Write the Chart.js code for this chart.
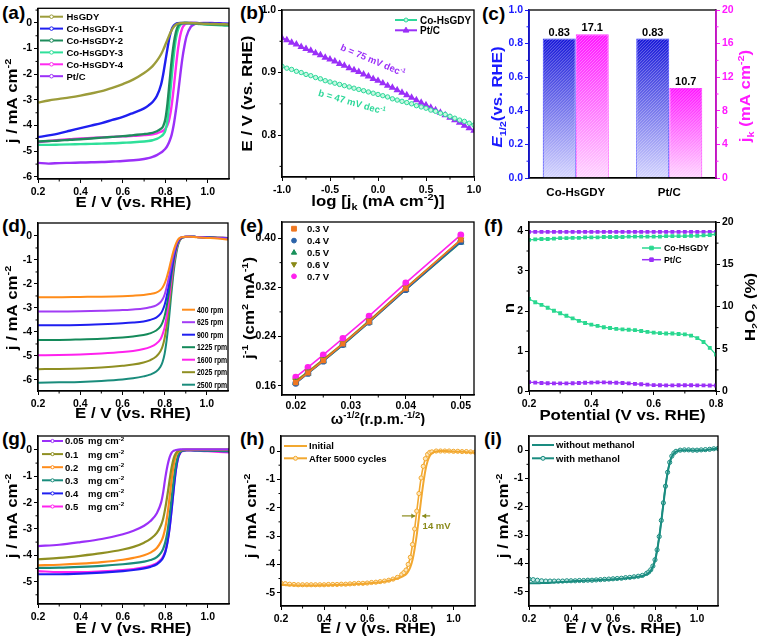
<!DOCTYPE html>
<html><head><meta charset="utf-8">
<script src="https://cdn.jsdelivr.net/npm/chart.js@4.4.1/dist/chart.umd.min.js"></script>
<style>
html,body{margin:0;padding:0;background:#fff;}
#wrap{position:relative;width:757px;height:639px;overflow:hidden;background:#fff;}
.pl{position:absolute;font-family:"Liberation Sans",Arial,sans-serif;font-weight:bold;font-size:19px;line-height:19px;color:#000;}
</style></head><body>
<div id="wrap">
<div class="pl" style="left:2px;top:3px">(a)</div>
<div class="pl" style="left:240px;top:3px">(b)</div>
<div class="pl" style="left:482px;top:4px">(c)</div>
<div class="pl" style="left:2px;top:216px">(d)</div>
<div class="pl" style="left:240px;top:216px">(e)</div>
<div class="pl" style="left:484px;top:216px">(f)</div>
<div class="pl" style="left:2px;top:429px">(g)</div>
<div class="pl" style="left:240px;top:429px">(h)</div>
<div class="pl" style="left:484px;top:429px">(i)</div>
</div>
<script>
const F='"Liberation Sans", Arial, sans-serif';

// ---------- (a) LSV of samples ----------
const E_A=[0.2,0.25,0.3,0.35,0.4,0.45,0.5,0.55,0.6,0.65,0.7,0.72,0.74,0.76,0.78,0.79,0.8,0.81,0.82,0.83,0.84,0.85,0.86,0.87,0.88,0.89,0.9,0.92,0.94,0.96,0.98,1.0,1.02,1.04,1.06,1.08,1.1];
const j_HsGDY=[-3.1,-3.02,-2.96,-2.9,-2.83,-2.75,-2.66,-2.53,-2.38,-2.2,-1.95,-1.83,-1.68,-1.48,-1.22,-1.05,-0.85,-0.65,-0.45,-0.28,-0.15,-0.07,-0.03,-0.01,0,0,0,0,-0.01,-0.02,-0.03,-0.03,-0.04,-0.04,-0.05,-0.05,-0.06];
const j_Co1=[-4.45,-4.38,-4.3,-4.2,-4.1,-4.0,-3.9,-3.78,-3.66,-3.5,-3.33,-3.22,-3.08,-2.85,-2.4,-2.0,-1.5,-1.0,-0.55,-0.25,-0.1,-0.03,-0.01,0,0,0,0,0,0,-0.01,-0.01,-0.01,-0.02,-0.02,-0.02,-0.03,-0.03];
const j_Co2=[-4.62,-4.6,-4.58,-4.55,-4.53,-4.5,-4.47,-4.44,-4.41,-4.37,-4.33,-4.31,-4.28,-4.22,-4.12,-4.02,-3.75,-3.15,-2.3,-1.45,-0.8,-0.35,-0.12,-0.04,-0.01,0,0,-0.01,-0.02,-0.03,-0.04,-0.05,-0.06,-0.06,-0.07,-0.08,-0.08];
const j_Co3=[-4.75,-4.75,-4.74,-4.73,-4.72,-4.71,-4.7,-4.69,-4.67,-4.65,-4.62,-4.6,-4.57,-4.52,-4.42,-4.35,-4.2,-3.8,-3.0,-2.1,-1.25,-0.6,-0.25,-0.08,-0.02,0,0,-0.01,-0.02,-0.04,-0.05,-0.06,-0.07,-0.08,-0.09,-0.1,-0.1];
const j_Co4=[-4.65,-4.6,-4.56,-4.53,-4.5,-4.48,-4.46,-4.44,-4.42,-4.4,-4.37,-4.36,-4.34,-4.3,-4.24,-4.2,-4.12,-3.98,-3.7,-3.2,-2.5,-1.7,-1.0,-0.5,-0.2,-0.07,-0.02,0,0,-0.01,-0.02,-0.03,-0.03,-0.04,-0.04,-0.05,-0.05];
const j_PtC=[-5.45,-5.48,-5.46,-5.45,-5.44,-5.43,-5.42,-5.4,-5.38,-5.35,-5.3,-5.27,-5.22,-5.15,-5.05,-4.98,-4.9,-4.78,-4.6,-4.35,-3.95,-3.4,-2.75,-2.05,-1.4,-0.9,-0.52,-0.15,-0.04,-0.01,0,0,0,-0.01,-0.02,-0.03,-0.04];
const namesA=['HsGDY','Co-HsGDY-1','Co-HsGDY-2','Co-HsGDY-3','Co-HsGDY-4','Pt/C'];

// ---------- (b) Tafel ----------
const logJk=[-1,-0.95,-0.9,-0.85,-0.8,-0.75,-0.7,-0.65,-0.6,-0.55,-0.5,-0.45,-0.4,-0.35,-0.3,-0.25,-0.2,-0.15,-0.1,-0.05,0,0.05,0.1,0.15,0.2,0.25,0.3,0.35,0.4,0.45,0.5,0.55,0.6,0.65,0.7,0.75,0.8,0.85,0.9,0.95,1];
const Etaf_Co=[0.910,0.907,0.905,0.902,0.900,0.897,0.895,0.892,0.890,0.887,0.885,0.883,0.881,0.879,0.877,0.875,0.873,0.871,0.869,0.867,0.865,0.863,0.861,0.858,0.856,0.854,0.852,0.850,0.847,0.845,0.843,0.840,0.838,0.835,0.833,0.830,0.827,0.824,0.822,0.819,0.816];
const Etaf_Pt=[0.955,0.952,0.948,0.945,0.941,0.938,0.935,0.931,0.928,0.924,0.921,0.918,0.914,0.911,0.907,0.904,0.901,0.897,0.894,0.890,0.887,0.883,0.879,0.876,0.872,0.868,0.864,0.860,0.856,0.852,0.848,0.844,0.840,0.836,0.832,0.828,0.824,0.820,0.815,0.811,0.807];
const namesB=['Co-HsGDY','Pt/C'];
const tafelLabels=['b = 47 mV dec','b = 75 mV dec'];

// ---------- (c) bars ----------
const catC=['Co-HsGDY','Pt/C'];
const E_half=[0.83,0.83];
const j_k=[17.1,10.7];

// ---------- (d) rpm ----------
const E_D=[0.2,0.3,0.4,0.5,0.6,0.65,0.7,0.73,0.76,0.78,0.79,0.8,0.81,0.82,0.83,0.84,0.85,0.86,0.87,0.88,0.9,0.92,0.95,1.0,1.05,1.1];
const rpmNames=['400 rpm','625 rpm','900 rpm','1225 rpm','1600 rpm','2025 rpm','2500 rpm'];
const j_400=[-2.55,-2.55,-2.54,-2.53,-2.51,-2.49,-2.46,-2.42,-2.36,-2.25,-2.15,-1.98,-1.72,-1.4,-1.03,-0.68,-0.4,-0.2,-0.09,-0.05,-0.03,-0.03,-0.05,-0.08,-0.11,-0.15];
const j_625=[-3.15,-3.15,-3.14,-3.12,-3.09,-3.06,-3.02,-2.97,-2.89,-2.76,-2.64,-2.44,-2.12,-1.72,-1.27,-0.84,-0.5,-0.25,-0.11,-0.05,-0.03,-0.03,-0.04,-0.07,-0.09,-0.11];
const j_900=[-3.72,-3.72,-3.71,-3.68,-3.64,-3.61,-3.56,-3.5,-3.4,-3.25,-3.1,-2.87,-2.5,-2.03,-1.5,-0.99,-0.58,-0.29,-0.13,-0.06,-0.03,-0.03,-0.04,-0.06,-0.08,-0.1];
const j_1225=[-4.33,-4.33,-4.31,-4.28,-4.23,-4.19,-4.13,-4.06,-3.94,-3.77,-3.6,-3.33,-2.9,-2.36,-1.74,-1.15,-0.67,-0.33,-0.15,-0.07,-0.03,-0.03,-0.04,-0.06,-0.07,-0.09];
const j_1600=[-4.97,-4.96,-4.94,-4.9,-4.84,-4.79,-4.71,-4.63,-4.49,-4.3,-4.1,-3.8,-3.3,-2.68,-1.98,-1.3,-0.76,-0.38,-0.17,-0.08,-0.03,-0.03,-0.04,-0.06,-0.07,-0.08];
const j_2025=[-5.55,-5.54,-5.52,-5.48,-5.41,-5.36,-5.27,-5.18,-5.02,-4.8,-4.6,-4.25,-3.7,-3.0,-2.2,-1.45,-0.85,-0.42,-0.19,-0.09,-0.04,-0.03,-0.04,-0.06,-0.07,-0.08];
const j_2500=[-6.12,-6.1,-6.08,-6.04,-5.98,-5.93,-5.85,-5.78,-5.65,-5.45,-5.25,-4.9,-4.3,-3.5,-2.55,-1.7,-1.0,-0.5,-0.22,-0.1,-0.04,-0.03,-0.04,-0.06,-0.07,-0.08];

// ---------- (e) K-L ----------
const omega=[0.02,0.02222,0.025,0.02857,0.03333,0.04,0.05];
const klNames=['0.3 V','0.4 V','0.5 V','0.6 V','0.7 V'];
const kl_03=[0.165,0.181,0.201,0.228,0.264,0.318,0.397];
const kl_04=[0.164,0.180,0.200,0.227,0.263,0.316,0.394];
const kl_05=[0.165,0.180,0.200,0.226,0.263,0.316,0.393];
const kl_06=[0.168,0.183,0.203,0.229,0.266,0.319,0.397];
const kl_07=[0.174,0.190,0.210,0.237,0.273,0.327,0.405];

// ---------- (f) n and H2O2 ----------
const E_F=[0.2,0.22,0.24,0.26,0.28,0.3,0.32,0.34,0.36,0.38,0.4,0.42,0.44,0.46,0.48,0.5,0.52,0.54,0.56,0.58,0.6,0.62,0.64,0.66,0.68,0.7,0.72,0.74,0.76,0.78,0.8];
const n_Co=[3.78,3.79,3.8,3.8,3.81,3.82,3.82,3.83,3.83,3.84,3.84,3.84,3.85,3.85,3.85,3.85,3.86,3.86,3.86,3.86,3.86,3.86,3.87,3.87,3.87,3.87,3.88,3.88,3.89,3.9,3.92];
const n_Pt=[3.98,3.98,3.98,3.98,3.98,3.98,3.98,3.98,3.98,3.98,3.98,3.98,3.98,3.98,3.98,3.98,3.98,3.98,3.98,3.98,3.98,3.98,3.98,3.98,3.98,3.98,3.98,3.98,3.98,3.98,3.98];
const h2o2_Co=[10.9,10.5,10.2,9.85,9.5,9.2,8.9,8.6,8.3,8.05,7.85,7.7,7.55,7.45,7.35,7.3,7.25,7.2,7.1,7.0,6.9,6.85,6.8,6.8,6.75,6.7,6.55,6.25,5.8,5.1,4.3];
const h2o2_Pt=[1.05,1.0,0.95,0.92,0.9,0.9,0.9,0.92,0.95,0.98,1.0,1.02,1.02,1.0,0.98,0.95,0.9,0.85,0.8,0.75,0.7,0.68,0.67,0.67,0.68,0.68,0.68,0.67,0.66,0.65,0.65];

// ---------- (g) loading ----------
const loadVals=['0.05','0.1','0.2','0.3','0.4','0.5'];
const j_L005=[-3.65,-3.6,-3.5,-3.38,-3.2,-3.07,-2.88,-2.7,-2.4,-2.0,-1.6,-1.05,-0.6,-0.28,-0.1,-0.03,0,0.01,0.02,0.02,0.02,0.02,0.02,0.02,0.02,0.02];
const j_L01=[-4.15,-4.1,-4.02,-3.92,-3.78,-3.68,-3.52,-3.38,-3.15,-2.85,-2.6,-2.2,-1.7,-1.15,-0.65,-0.3,-0.12,-0.04,-0.01,0,0.01,0.01,0.01,0.01,0.01,0.01];
const j_L02=[-4.38,-4.36,-4.32,-4.26,-4.17,-4.1,-4.0,-3.9,-3.72,-3.48,-3.28,-2.95,-2.45,-1.8,-1.12,-0.55,-0.22,-0.07,-0.02,0,0,0,0,0,0,0];
const j_L03=[-4.48,-4.47,-4.44,-4.4,-4.34,-4.3,-4.24,-4.18,-4.07,-3.9,-3.75,-3.5,-3.1,-2.5,-1.8,-1.1,-0.55,-0.22,-0.08,-0.03,-0.01,-0.01,-0.02,-0.03,-0.04,-0.05];
const j_L04=[-4.72,-4.72,-4.7,-4.66,-4.6,-4.56,-4.5,-4.44,-4.34,-4.2,-4.08,-3.88,-3.52,-2.98,-2.25,-1.45,-0.75,-0.3,-0.1,-0.03,-0.01,-0.01,-0.02,-0.03,-0.04,-0.05];
const j_L05=[-4.6,-4.64,-4.64,-4.61,-4.56,-4.52,-4.46,-4.4,-4.3,-4.16,-4.04,-3.84,-3.48,-2.95,-2.22,-1.42,-0.75,-0.32,-0.12,-0.05,-0.02,-0.02,-0.03,-0.05,-0.07,-0.09];

// ---------- (h) stability ----------
const E_M=[0.2,0.22,0.24,0.26,0.28,0.3,0.32,0.34,0.36,0.38,0.4,0.42,0.44,0.46,0.48,0.5,0.52,0.54,0.56,0.58,0.6,0.62,0.64,0.66,0.68,0.7,0.72,0.74,0.76,0.77,0.78,0.79,0.8,0.81,0.82,0.83,0.84,0.85,0.86,0.87,0.88,0.89,0.9,0.92,0.94,0.96,0.98,1.0,1.02,1.04,1.06,1.08,1.1];
const j_init=[-4.72,-4.73,-4.74,-4.74,-4.75,-4.75,-4.75,-4.75,-4.75,-4.74,-4.74,-4.74,-4.73,-4.73,-4.72,-4.72,-4.71,-4.7,-4.69,-4.69,-4.68,-4.66,-4.65,-4.63,-4.61,-4.58,-4.54,-4.5,-4.44,-4.4,-4.35,-4.25,-4.1,-3.85,-3.45,-2.95,-2.35,-1.72,-1.15,-0.68,-0.36,-0.18,-0.08,-0.02,0,0,-0.01,-0.02,-0.03,-0.03,-0.04,-0.05,-0.06];
const j_after=[-4.66,-4.68,-4.7,-4.71,-4.72,-4.72,-4.72,-4.72,-4.72,-4.72,-4.72,-4.71,-4.71,-4.71,-4.7,-4.7,-4.69,-4.68,-4.67,-4.67,-4.66,-4.64,-4.63,-4.61,-4.59,-4.56,-4.52,-4.46,-4.36,-4.29,-4.2,-4.0,-3.75,-3.3,-2.75,-2.12,-1.5,-0.95,-0.54,-0.27,-0.12,-0.05,-0.03,0,0,0,0,-0.01,-0.01,-0.02,-0.02,-0.03,-0.04];

// ---------- (i) methanol ----------
const j_noMeOH=[-4.7,-4.7,-4.7,-4.69,-4.69,-4.68,-4.67,-4.66,-4.65,-4.64,-4.63,-4.62,-4.62,-4.61,-4.6,-4.6,-4.59,-4.58,-4.57,-4.57,-4.56,-4.55,-4.54,-4.52,-4.51,-4.49,-4.47,-4.44,-4.38,-4.33,-4.25,-4.12,-3.9,-3.55,-3.08,-2.52,-1.9,-1.3,-0.8,-0.45,-0.23,-0.11,-0.05,-0.01,0,0,-0.01,-0.01,0,0,0.02,0.04,0.06];
const j_MeOH=[-4.55,-4.57,-4.59,-4.61,-4.62,-4.62,-4.62,-4.62,-4.62,-4.61,-4.61,-4.61,-4.6,-4.6,-4.59,-4.59,-4.58,-4.57,-4.56,-4.55,-4.54,-4.53,-4.52,-4.5,-4.49,-4.47,-4.45,-4.42,-4.35,-4.3,-4.22,-4.09,-3.87,-3.52,-3.05,-2.48,-1.86,-1.27,-0.78,-0.43,-0.21,-0.1,-0.04,0,0.01,0.01,0,0,0.01,0.02,0.03,0.05,0.06];

// ================= helpers =================
const wrap=document.getElementById('wrap');
const pts=(xs,ys)=>xs.map((x,i)=>({x:x,y:ys[i]}));
function ds(label,xs,ys,color,extra){
  return Object.assign({label:label,data:pts(xs,ys),borderColor:color,backgroundColor:color,borderWidth:2,pointRadius:0,pointHoverRadius:0,cubicInterpolationMode:'monotone',fill:false},extra||{});
}
const f1=v=>Number(v).toFixed(1), f2=v=>Number(v).toFixed(2), fi=v=>String(Math.round(v));

function lin(a){
  const col=a.color||'#000';
  return {
    type:'linear',position:a.pos,min:a.min,max:a.max,
    afterFit:function(s){ if(a.pos==='left'||a.pos==='right') s.width=a.size; else s.height=a.size; },
    afterBuildTicks:function(s){ s.ticks=a.ticks.map(v=>({value:v})); },
    ticks:{color:col,font:{family:F,size:a.fs||10.5,weight:'bold'},padding:a.pad!=null?a.pad:2,autoSkip:false,maxRotation:0,minRotation:0,callback:function(v){return a.fmt(v);}},
    grid:{display:true,drawOnChartArea:false,drawTicks:true,tickLength:4,color:col,lineWidth:1},
    border:{display:true,color:col,width:1.3}
  };
}
function catAxis(size){
  return {type:'category',position:'bottom',offset:true,
    afterFit:function(s){s.height=size;},
    ticks:{color:'#000',font:{family:F,size:11.5,weight:'bold'},padding:8},
    grid:{display:true,drawOnChartArea:false,drawTicks:false,color:'#000'},
    border:{display:true,color:'#000',width:1.3}};
}
function drawRich(ctx,parts,x,y,size,color,rot,align,sx){
  ctx.save(); ctx.translate(x,y); if(rot) ctx.rotate(rot); if(sx) ctx.scale(sx,1);
  ctx.fillStyle=color||'#000'; ctx.textBaseline='alphabetic'; ctx.textAlign='left';
  if(typeof parts==='string') parts=[[parts,'']];
  const segs=parts.map(p=>{const m=p[1];const s=(m==='u'||m==='d')?size*0.65:size;const f=(m==='i'?'italic bold ':'bold ')+s+'px '+F;ctx.font=f;return {t:p[0],m:m,f:f,w:ctx.measureText(p[0]).width};});
  const W=segs.reduce((a,s)=>a+s.w,0);
  let cx=align==='left'?0:-W/2; const base=size*0.36;
  segs.forEach(s=>{ctx.font=s.f;const dy=s.m==='u'?-size*0.4:(s.m==='d'?size*0.22:0);ctx.fillText(s.t,cx,base+dy);cx+=s.w;});
  ctx.restore();
}
const TS=15, SX=1.12;
function title(ctx,parts,x,y,color,rot){drawRich(ctx,parts,x,y,TS,color||'#000',rot||0,null,SX);}
function marker(ctx,shape,x,y,r,stroke,fill){
  ctx.save(); ctx.beginPath();
  if(shape==='circle') ctx.arc(x,y,r,0,Math.PI*2);
  else if(shape==='rect') ctx.rect(x-r,y-r,2*r,2*r);
  else if(shape==='tri'){ctx.moveTo(x,y-r*1.2);ctx.lineTo(x+r*1.1,y+r*0.7);ctx.lineTo(x-r*1.1,y+r*0.7);ctx.closePath();}
  else if(shape==='dtri'){ctx.moveTo(x,y+r*1.2);ctx.lineTo(x+r*1.1,y-r*0.7);ctx.lineTo(x-r*1.1,y-r*0.7);ctx.closePath();}
  ctx.fillStyle=fill; ctx.fill(); ctx.strokeStyle=stroke; ctx.lineWidth=1; ctx.stroke(); ctx.restore();
}
function legend(ctx,items,L){
  items.forEach((it,i)=>{
    const y=L.y0+i*L.dy;
    if(L.x1>L.x0){ctx.strokeStyle=it.color;ctx.lineWidth=L.lw||2;ctx.beginPath();ctx.moveTo(L.x0,y);ctx.lineTo(L.x1,y);ctx.stroke();}
    if(it.m) marker(ctx,it.m,L.x1>L.x0?(L.x0+L.x1)/2:L.x0,y,it.r||2.2,it.color,it.fill||it.color);
    drawRich(ctx,it.rich||it.label,L.tx,y,L.fs||9.5,'#000',0,'left',L.sx);
  });
}
function line(ctx,x0,y0,x1,y1){ctx.beginPath();ctx.moveTo(x0,y0);ctx.lineTo(x1,y1);ctx.stroke();}

function build(o){
  const c=o.cell,p=o.plot;
  const cv=document.createElement('canvas'); cv.width=c.w; cv.height=c.h;
  cv.style.cssText='position:absolute;left:'+c.x+'px;top:'+c.y+'px;width:'+c.w+'px;height:'+c.h+'px;';
  wrap.appendChild(cv);
  const leftW=p.l-c.x, topP=p.t-c.y, rightW=c.x+c.w-p.r, botH=c.y+c.h-p.b;
  const scales={};
  scales.x=o.x.cat?catAxis(botH):lin(Object.assign({pos:'bottom',size:botH},o.x));
  scales.y=lin(Object.assign({pos:'left',size:leftW},o.y));
  if(o.y1) scales.y1=lin(Object.assign({pos:'right',size:rightW},o.y1));
  return new Chart(cv,{
    type:o.type||'line',
    data:o.data,
    options:{
      responsive:false,animation:false,devicePixelRatio:1,events:[],
      layout:{padding:{left:0,top:topP,right:o.y1?0:rightW,bottom:0}},
      plugins:{legend:{display:false},tooltip:{enabled:false}},
      scales:scales
    },
    plugins:[{id:'deco',afterDraw:function(chart){
      const ctx=chart.ctx,a=chart.chartArea;
      ctx.save();
      if(o.raw) o.raw(chart,ctx);
      ctx.lineWidth=1.3; ctx.strokeStyle='#000';
      ctx.strokeRect(a.left,a.top,a.right-a.left,a.bottom-a.top);
      if(o.leftColor){ctx.strokeStyle=o.leftColor;line(ctx,a.left,a.top,a.left,a.bottom);}
      if(o.rightColor){ctx.strokeStyle=o.rightColor;line(ctx,a.right,a.top,a.right,a.bottom);}
      const mn=o.minor||{};
      Object.keys(mn).forEach(k=>{
        const s=chart.scales[k]; if(!s) return;
        ctx.strokeStyle=(k==='y'&&o.leftColor)||(k==='y1'&&o.rightColor)||'#000'; ctx.lineWidth=1;
        mn[k].forEach(v=>{const px=s.getPixelForValue(v);
          if(k==='x') line(ctx,px,a.bottom,px,a.bottom+2.5);
          else if(k==='y') line(ctx,a.left-2.5,px,a.left,px);
          else line(ctx,a.right,px,a.right+2.5,px);});
      });
      ctx.translate(-c.x,-c.y);
      if(o.deco) o.deco(chart,ctx,c);
      ctx.restore();
    }}]
  });
}

const LSVx={min:0.2,max:1.1,ticks:[0.2,0.4,0.6,0.8,1.0],fmt:f1,pad:3};
const Xt='E / V (vs. RHE)';
const Yt=[['j / mA cm',''],['-2','u']];

// ================= (a) =================
const colA=['#9c9c3a','#1f1ff0','#1e8c5c','#2fe09a','#ff2af0','#9b30f8'];
const seriesA=[j_HsGDY,j_Co1,j_Co2,j_Co3,j_Co4,j_PtC];
build({cell:{x:0,y:0,w:252,h:213},plot:{l:38,t:5,r:229,b:179},
  data:{datasets:seriesA.map((s,i)=>ds(namesA[i],E_A,s,colA[i],{borderWidth:2.4}))},
  x:LSVx,y:{min:-6.08,max:0.57,ticks:[-6,-5,-4,-3,-2,-1,0],fmt:fi},
  minor:{x:[0.3,0.5,0.7,0.9],y:[-5.5,-4.5,-3.5,-2.5,-1.5,-0.5,0.5]},
  deco:function(ch,ctx){
    title(ctx,Xt,133.5,201.5);
    title(ctx,Yt,11.5,101,'#000',-Math.PI/2);
    legend(ctx,namesA.map((n,i)=>({label:n,color:colA[i],m:'circle',r:1.8,fill:'#fff'})),{x0:40,x1:63,tx:66.5,y0:16.7,dy:11.9,fs:9.5});
  }});

// ================= (b) =================
const colB=['#2ed89a','#9b30f8'];
build({cell:{x:238,y:0,w:266,h:213},plot:{l:282,t:10,r:474,b:177},
  data:{datasets:[
    ds(namesB[0],logJk,Etaf_Co,colB[0],{borderWidth:1.5,pointRadius:2.2,pointStyle:'circle',pointBackgroundColor:'#c8f7e2',pointBorderColor:colB[0],pointBorderWidth:1}),
    ds(namesB[1],logJk,Etaf_Pt,colB[1],{borderWidth:1.5,pointRadius:2.8,pointStyle:'triangle',pointBackgroundColor:colB[1],pointBorderColor:colB[1]})
  ]},
  x:{min:-1,max:1,ticks:[-1,-0.5,0,0.5,1],fmt:f1,pad:3},
  y:{min:0.733,max:1.0,ticks:[0.8,0.9,1.0],fmt:f1},
  minor:{x:[-0.75,-0.25,0.25,0.75],y:[0.75,0.85,0.95]},
  deco:function(ch,ctx){
    title(ctx,[['log [j',''],['k','d'],[' (mA cm',''],['-2','u'],[')]','']],378,201);
    title(ctx,Xt,247,93.5,'#000',-Math.PI/2);
    legend(ctx,[{label:namesB[0],color:colB[0],m:'circle',r:2,fill:'#c8f7e2'},{label:namesB[1],color:colB[1],m:'tri',r:2.6}],{x0:395,x1:417,tx:420,y0:20,dy:10.3,fs:10});
    drawRich(ctx,[[tafelLabels[1],''],['-1','u']],373,60,9.5,colB[1],0.40);
    drawRich(ctx,[[tafelLabels[0],''],['-1','u']],352,102,9.5,colB[0],0.28);
  }});

// ================= (c) =================
function grad(top,bot){
  return function(ctx){
    const ch=ctx.chart,a=ch.chartArea; if(!a) return top;
    const sc=ch.scales[ctx.dataset.yAxisID]; const v=(ctx.raw!=null)?ctx.raw:0;
    const y=sc.getPixelForValue(v);
    const g=ch.ctx.createLinearGradient(0,y,0,a.bottom); g.addColorStop(0,top); g.addColorStop(1,bot); return g;
  };
}
build({cell:{x:484,y:0,w:273,h:213},plot:{l:529,t:10,r:716,b:178},type:'bar',
  data:{labels:catC,datasets:[
    {label:'E1/2',data:E_half,yAxisID:'y',backgroundColor:grad('#1212d8','#d4d4ff'),borderColor:'#2a2aff',borderWidth:1,categoryPercentage:0.706,barPercentage:1},
    {label:'jk',data:j_k,yAxisID:'y1',backgroundColor:grad('#ff10ff','#ffd4ff'),borderColor:'#ff30ff',borderWidth:1,categoryPercentage:0.706,barPercentage:1}
  ]},
  x:{cat:true},
  y:{min:0,max:1,ticks:[0,0.2,0.4,0.6,0.8,1.0],fmt:f1,color:'#1a1aff'},
  y1:{min:0,max:20,ticks:[0,4,8,12,16,20],fmt:fi,color:'#ff1aff'},
  leftColor:'#1a1aff',rightColor:'#ff1aff',
  minor:{y:[0.1,0.3,0.5,0.7,0.9],y1:[2,6,10,14,18]},
  raw:function(ch,ctx){
    [0,1].forEach(d=>{
      const meta=ch.getDatasetMeta(d);
      meta.data.forEach((bar,i)=>{
        const pr=bar.getProps(['x','y','base','width'],true);
        const l=pr.x-pr.width/2,h=pr.base-pr.y;
        ctx.save(); ctx.beginPath(); ctx.rect(l,pr.y,pr.width,h); ctx.clip();
        ctx.strokeStyle='rgba(255,255,255,0.45)'; ctx.lineWidth=0.8;
        for(let k=-h;k<pr.width+2;k+=3){ctx.beginPath();ctx.moveTo(l+k,pr.base);ctx.lineTo(l+k+h,pr.y);ctx.stroke();}
        ctx.restore();
        const val=d===0?E_half[i].toFixed(2):j_k[i].toFixed(1);
        ctx.fillStyle='#000'; ctx.font='bold 11px '+F; ctx.textAlign='center'; ctx.textBaseline='alphabetic';
        ctx.fillText(val,pr.x,pr.y-3);
      });
    });
  },
  deco:function(ch,ctx){
    title(ctx,[['E','i'],['1/2','d'],['(vs. RHE)','']],497,97,'#1a1aff',-Math.PI/2);
    title(ctx,[['j',''],['k','d'],[' (mA cm',''],['-2','u'],[')','']],745,96,'#ff1aff',-Math.PI/2);
  }});

// ================= (d) =================
const colD=['#ff8c1a','#a23cf5','#1f1ff0','#148a5a','#ff22ee','#8f8f22','#1a8c7c'];
const seriesD=[j_400,j_625,j_900,j_1225,j_1600,j_2025,j_2500];
build({cell:{x:0,y:213,w:252,h:213},plot:{l:38,t:223,r:228,b:391},
  data:{datasets:seriesD.map((s,i)=>ds(rpmNames[i],E_D,s,colD[i],{borderWidth:2}))},
  x:LSVx,y:{min:-6.46,max:0.54,ticks:[-6,-5,-4,-3,-2,-1,0],fmt:fi},
  minor:{x:[0.3,0.5,0.7,0.9],y:[-5.5,-4.5,-3.5,-2.5,-1.5,-0.5]},
  deco:function(ch,ctx){
    title(ctx,Xt,133,413);
    title(ctx,Yt,11.5,308,'#000',-Math.PI/2);
    legend(ctx,rpmNames.map((n,i)=>({label:n,color:colD[i]})),{x0:182,x1:195,tx:197,y0:309.7,dy:12.5,fs:8.6,sx:0.8});
  }});

// ================= (e) =================
const colE=['#f07820','#2a62a8','#18905a','#8a8a18','#ff22ee'];
const shapeE=[['rect','rect',0],['circle','circle',0],['tri','triangle',0],['dtri','triangle',180],['circle','circle',0]];
const seriesE=[kl_03,kl_04,kl_05,kl_06,kl_07];
build({cell:{x:238,y:213,w:266,h:213},plot:{l:282,t:222,r:474,b:395},
  data:{datasets:seriesE.map((s,i)=>ds(klNames[i],omega,s,colE[i],{borderWidth:1.6,cubicInterpolationMode:'default',tension:0,pointRadius:2.6,pointStyle:shapeE[i][1],pointRotation:shapeE[i][2],pointBackgroundColor:colE[i],pointBorderColor:colE[i]}))},
  x:{min:0.0175,max:0.0524,ticks:[0.02,0.03,0.04,0.05],fmt:f2,pad:1},
  y:{min:0.145,max:0.426,ticks:[0.16,0.24,0.32,0.40],fmt:f2},
  minor:{x:[0.025,0.035,0.045],y:[0.2,0.28,0.36]},
  deco:function(ch,ctx){
    drawRich(ctx,[['ω',''],['-1/2','u'],['(r.p.m.',''],['-1/2','u'],[')','']],378,419,14,'#000',0,null,1.05);
    title(ctx,[['j',''],['-1','u'],[' (cm',''],['2','u'],[' mA',''],['-1','u'],[')','']],249,308,'#000',-Math.PI/2);
    legend(ctx,klNames.map((n,i)=>({label:n,color:colE[i],m:shapeE[i][0],r:2.4})),{x0:294,x1:294,tx:307,y0:228.7,dy:11.9,fs:9.5});
  }});

// ================= (f) =================
const colF=['#2ad890','#9b30f8'];
const namesF=['Co-HsGDY','Pt/C'];
const mkF=(c)=>({borderWidth:1.3,pointRadius:1.8,pointStyle:'rect',pointBackgroundColor:c,pointBorderColor:c});
build({cell:{x:484,y:213,w:273,h:213},plot:{l:529,t:222,r:716,b:391},
  data:{datasets:[
    ds(namesF[0],E_F,n_Co,colF[0],Object.assign({yAxisID:'y'},mkF(colF[0]))),
    ds(namesF[1],E_F,n_Pt,colF[1],Object.assign({yAxisID:'y'},mkF(colF[1]))),
    ds(namesF[0],E_F,h2o2_Co,colF[0],Object.assign({yAxisID:'y1'},mkF(colF[0]))),
    ds(namesF[1],E_F,h2o2_Pt,colF[1],Object.assign({yAxisID:'y1'},mkF(colF[1])))
  ]},
  x:{min:0.2,max:0.8,ticks:[0.2,0.4,0.6,0.8],fmt:f1,pad:3},
  y:{min:0,max:4.225,ticks:[0,1,2,3,4],fmt:fi},
  y1:{min:0,max:20,ticks:[0,5,10,15,20],fmt:fi},
  minor:{x:[0.3,0.5,0.7],y:[0.5,1.5,2.5,3.5],y1:[2.5,7.5,12.5,17.5]},
  deco:function(ch,ctx){
    title(ctx,'Potential (V vs. RHE)',622.5,415);
    title(ctx,'n',509,308,'#000',-Math.PI/2);
    title(ctx,[['H',''],['2','d'],['O',''],['2','d'],[' (%)','']],749.5,307,'#000',-Math.PI/2);
    legend(ctx,namesF.map((n,i)=>({label:n,color:colF[i],m:'rect',r:1.8})),{x0:642,x1:661,tx:664,y0:248,dy:11.7,fs:8.8,lw:1.5});
  }});

// ================= (g) =================
const colG=['#9b30f8','#8f8f22','#ff8c1a','#1a8c7c','#1f1ff0','#ff22ee'];
const seriesG=[j_L005,j_L01,j_L02,j_L03,j_L04,j_L05];
build({cell:{x:0,y:426,w:252,h:213},plot:{l:38,t:436,r:229,b:604},
  data:{datasets:seriesG.map((s,i)=>ds(loadVals[i]+' mg cm-2',E_D,s,colG[i],{borderWidth:2.2}))},
  x:LSVx,y:{min:-5.85,max:0.53,ticks:[-5,-4,-3,-2,-1,0],fmt:fi},
  minor:{x:[0.3,0.5,0.7,0.9],y:[-5.5,-4.5,-3.5,-2.5,-1.5,-0.5]},
  deco:function(ch,ctx){
    title(ctx,Xt,133.5,627.5);
    title(ctx,Yt,11.5,516,'#000',-Math.PI/2);
    legend(ctx,loadVals.map((n,i)=>({label:n,color:colG[i],m:'circle',r:1.6,fill:'#fff'})),{x0:42,x1:63,tx:65,y0:441,dy:13.1,fs:9.5});
    loadVals.forEach((n,i)=>drawRich(ctx,[['mg cm',''],['-2','u']],88,441+i*13.1,9.5,'#000',0,'left'));
  }});

// ================= (h) =================
const colH='#f2a830';
const namesH=['Initial','After 5000 cycles'];
build({cell:{x:238,y:426,w:266,h:213},plot:{l:281,t:436,r:475,b:606},
  data:{datasets:[
    ds(namesH[0],E_M,j_init,colH,{borderWidth:2}),
    ds(namesH[1],E_M,j_after,colH,{borderWidth:1.6,pointRadius:2.1,pointStyle:'circle',pointBackgroundColor:'#fde7bd',pointBorderColor:colH,pointBorderWidth:1})
  ]},
  x:LSVx,y:{min:-5.47,max:0.53,ticks:[-5,-4,-3,-2,-1,0],fmt:fi},
  minor:{x:[0.3,0.5,0.7,0.9],y:[-4.5,-3.5,-2.5,-1.5,-0.5]},
  deco:function(ch,ctx,c){
    title(ctx,Xt,378,627.5);
    title(ctx,Yt,251,516,'#000',-Math.PI/2);
    legend(ctx,[{label:namesH[0],color:colH},{label:namesH[1],color:colH,m:'circle',r:2,fill:'#fde7bd'}],{x0:284,x1:307,tx:309,y0:446,dy:12.3,fs:9.5});
    const X=v=>ch.scales.x.getPixelForValue(v)+c.x, Y=v=>ch.scales.y.getPixelForValue(v)+c.y;
    const ay=Y(-2.29), ac='#8a8a1a';
    ctx.strokeStyle=ac; ctx.fillStyle=ac; ctx.lineWidth=1.2;
    const arrow=(xa,xb)=>{line(ctx,xa,ay,xb,ay);const d=Math.sign(xb-xa);ctx.beginPath();ctx.moveTo(xb,ay);ctx.lineTo(xb-d*4,ay-2.5);ctx.lineTo(xb-d*4,ay+2.5);ctx.closePath();ctx.fill();};
    arrow(X(0.761),X(0.823)); arrow(X(0.892),X(0.855));
    drawRich(ctx,'14 mV',X(0.857),Y(-2.64),9.5,ac,0,'left');
  }});

// ================= (i) =================
const colI='#1a8c80';
const namesI=['without methanol','with methanol'];
build({cell:{x:484,y:426,w:273,h:213},plot:{l:529,t:436,r:718,b:606},
  data:{datasets:[
    ds(namesI[0],E_M,j_noMeOH,colI,{borderWidth:2}),
    ds(namesI[1],E_M,j_MeOH,colI,{borderWidth:1.6,pointRadius:2.1,pointStyle:'circle',pointBackgroundColor:'#c7ece8',pointBorderColor:colI,pointBorderWidth:1})
  ]},
  x:LSVx,y:{min:-5.5,max:0.5,ticks:[-5,-4,-3,-2,-1,0],fmt:fi},
  minor:{x:[0.3,0.5,0.7,0.9],y:[-4.5,-3.5,-2.5,-1.5,-0.5]},
  deco:function(ch,ctx){
    title(ctx,Xt,623.5,627.5);
    title(ctx,Yt,503,516,'#000',-Math.PI/2);
    legend(ctx,[{label:namesI[0],color:colI},{label:namesI[1],color:colI,m:'circle',r:2,fill:'#c7ece8'}],{x0:532,x1:554,tx:556,y0:445,dy:13.3,fs:9.5});
  }});
</script>
</body></html>
